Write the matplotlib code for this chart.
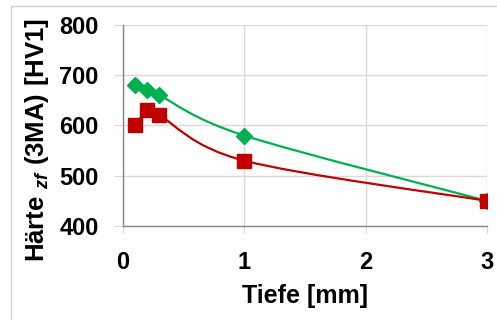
import numpy as np
import matplotlib.pyplot as plt
from matplotlib.path import Path
from matplotlib.patches import PathPatch, Rectangle

# Werte
tiefe = [0.1, 0.2, 0.3, 1.0, 3.0]
haerte_gruen = [680, 670, 660, 580, 450]
haerte_rot = [600, 630, 620, 530, 450]

plt.rcParams['font.family'] = 'Liberation Sans'
plt.rcParams['mathtext.fontset'] = 'custom'
plt.rcParams['mathtext.rm'] = 'Liberation Sans:bold'
plt.rcParams['mathtext.bf'] = 'Liberation Sans:bold'
plt.rcParams['mathtext.it'] = 'Liberation Sans:italic:bold'


def smooth_path(x, y, t=1/6):
    # Bezier-Glättung wie in Excel (Catmull-Rom)
    x = np.asarray(x, float)
    y = np.asarray(y, float)
    n = len(x)
    verts = [(x[0], y[0])]
    codes = [Path.MOVETO]
    for i in range(n - 1):
        i0 = max(i - 1, 0)
        i3 = min(i + 2, n - 1)
        c1 = (x[i] + (x[i + 1] - x[i0]) * t, y[i] + (y[i + 1] - y[i0]) * t)
        c2 = (x[i + 1] - (x[i3] - x[i]) * t, y[i + 1] - (y[i3] - y[i]) * t)
        verts += [c1, c2, (x[i + 1], y[i + 1])]
        codes += [Path.CURVE4] * 3
    return Path(verts, codes)


fig = plt.figure(figsize=(4.97, 3.2), dpi=100)
fig.patches.append(Rectangle((11 / 497, -0.1), 1.2, (320 - 6) / 320 + 0.1,
                             transform=fig.transFigure, fill=False,
                             edgecolor='#D0D0D0', lw=1))
ax = fig.add_axes([123 / 497, 94 / 320, (487 - 123) / 497, (226 - 25) / 320])

for yy, col in [(haerte_gruen, '#00B050'), (haerte_rot, '#C00000')]:
    ax.add_patch(PathPatch(smooth_path(tiefe, yy), fill=False, edgecolor=col,
                           lw=1.6, zorder=3))

ax.plot(tiefe, haerte_gruen, linestyle='None', marker='D', markersize=8.5,
        color='#00B050', zorder=4)
ax.plot(tiefe, haerte_rot, linestyle='None', marker='s', markersize=10,
        color='#C00000', zorder=4)

ax.set_xlim(0, 3)
ax.set_ylim(400, 800)
ax.set_xticks([0, 1, 2, 3])
ax.set_yticks([400, 500, 600, 700, 800])
ax.grid(True, color='#D9D9D9', lw=1)
ax.set_axisbelow(True)
for s in ['top', 'right']:
    ax.spines[s].set_visible(False)
for s in ['left', 'bottom']:
    ax.spines[s].set_color('#868686')
    ax.spines[s].set_linewidth(1)
ax.tick_params(axis='y', length=6.5, color='#D9D9D9', pad=11, labelsize=17)
ax.tick_params(axis='x', length=5, color='#D9D9D9', pad=13, labelsize=17)
for lab in ax.get_xticklabels() + ax.get_yticklabels():
    lab.set_fontweight('bold')

ax.set_xlabel('Tiefe [mm]', fontsize=18, fontweight='bold', labelpad=7)
fig.text(37 / 497, 1 - 140 / 320,
         r'$\mathbf{Härte}\ _{\mathit{zf}}\ \mathbf{(3MA)\ [HV1]}$',
         fontsize=18.5, rotation=90, ha='center', va='center')

fig.savefig('out.png', dpi=100)
